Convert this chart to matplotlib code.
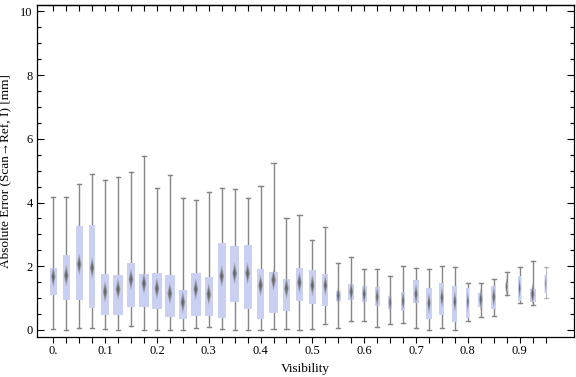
import matplotlib
matplotlib.use("Agg")
import matplotlib.pyplot as plt
import numpy as np
from matplotlib.patches import Polygon, Rectangle

# visibility bins (category positions)
visibility = np.round(np.arange(39) * 0.025, 3)

whisker_high = [4.18, 4.18, 4.57, 4.91, 4.72, 4.79, 4.97, 5.45, 4.47, 4.88,
                4.13, 4.07, 4.32, 4.47, 4.41, 4.13, 4.51, 5.23, 3.53, 3.60,
                2.81, 3.22, 2.09, 2.28, 1.90, 1.90, 1.68, 2.00, 1.93, 1.90,
                2.00, 1.97, 1.46, 1.49, 1.59, 1.81, 1.97, 2.15, 1.98]
q3 = [1.94, 2.34, 3.25, 3.31, 1.75, 1.71, 2.09, 1.75, 1.78, 1.71,
      1.24, 1.78, 1.65, 2.73, 2.63, 2.66, 1.91, 1.82, 1.60, 1.94,
      1.87, 1.76, 1.22, 1.44, 1.38, 1.35, 1.07, 1.19, 1.56, 1.31,
      1.46, 1.38, 1.31, 1.16, 1.38, 1.46, 1.68, 1.28, 1.71]
median = [1.67, 1.71, 2.06, 1.95, 1.20, 1.28, 1.59, 1.46, 1.30, 1.15,
          0.87, 1.28, 1.12, 1.69, 1.78, 1.78, 1.40, 1.57, 1.31, 1.49,
          1.40, 1.40, 1.08, 1.20, 1.13, 1.04, 0.86, 0.91, 1.13, 0.84,
          1.02, 0.89, 0.89, 0.96, 1.04, 1.36, 1.31, 1.13, 1.46]
q1 = [1.11, 0.95, 0.95, 0.68, 0.46, 0.48, 0.73, 0.73, 0.67, 0.42,
      0.35, 0.45, 0.45, 0.39, 0.89, 0.67, 0.35, 0.54, 0.61, 0.92,
      0.82, 0.76, 0.92, 0.95, 0.89, 0.76, 0.65, 0.61, 0.84, 0.34,
      0.48, 0.26, 0.39, 0.73, 0.65, 1.23, 0.92, 0.89, 1.17]
whisker_low = [0.02, 0.00, 0.05, 0.05, 0.02, 0.00, 0.13, 0.00, 0.00, 0.00,
               0.00, 0.05, 0.08, 0.02, 0.00, 0.00, 0.00, 0.02, 0.02, 0.00,
               0.02, 0.19, 0.05, 0.27, 0.28, 0.08, 0.18, 0.21, 0.05, 0.00,
               0.05, 0.00, 0.28, 0.40, 0.43, 1.09, 0.84, 0.77, 0.99]
# relative box widths (sample size weighting), in visibility units
box_width = [0.0135, 0.0141, 0.0141, 0.0129, 0.0141, 0.0206, 0.0168, 0.0187, 0.0206, 0.0193,
             0.0154, 0.0187, 0.0154, 0.0160, 0.0174, 0.0154, 0.0149, 0.0174, 0.0141, 0.0141,
             0.0135, 0.0116, 0.0097, 0.0116, 0.0102, 0.0093, 0.0077, 0.0083, 0.0102, 0.0102,
             0.0097, 0.0097, 0.0058, 0.0102, 0.0097, 0.0058, 0.0058, 0.0116, 0.0052]

x_ticks = [0.0, 0.1, 0.2, 0.3, 0.4, 0.5, 0.6, 0.7, 0.8, 0.9]
x_ticklabels = ['0.', '0.1', '0.2', '0.3', '0.4', '0.5', '0.6', '0.7', '0.8', '0.9']

box_color = '#c9d0f2'
line_color = '#858585'
cap = 0.008

plt.rcParams['font.family'] = ['Liberation Serif', 'DejaVu Serif']

fig = plt.figure(figsize=(5.76, 3.77), dpi=100)
ax = fig.add_axes([0.0637, 0.107, 0.933, 0.8805])

n = len(visibility)
for i in range(n):
    x = visibility[i]
    w = box_width[i]
    a = 0.5 if i == n - 1 else 1.0
    # whisker
    ax.plot([x, x], [whisker_low[i], whisker_high[i]], color=line_color, lw=1.0, alpha=a, zorder=1)
    ax.plot([x - cap / 2, x + cap / 2], [whisker_high[i]] * 2, color=line_color, lw=1.0, alpha=a, zorder=1)
    ax.plot([x - cap / 2, x + cap / 2], [whisker_low[i]] * 2, color=line_color, lw=1.0, alpha=a, zorder=1)
    # box
    ax.add_patch(Rectangle((x - w / 2, q1[i]), w, q3[i] - q1[i], facecolor=box_color,
                           edgecolor='none', alpha=a, zorder=2))
    # median diamond (soft gray)
    dw = min(0.65 * w, 0.0095)
    dh = 0.7
    for scale, col, al in [(1.0, '#9696a0', 0.7), (0.7, '#7a7a7a', 0.9), (0.4, '#636363', 1.0)]:
        hw, hh = dw / 2 * scale, dh / 2 * scale
        ax.add_patch(Polygon([(x - hw, median[i]), (x, median[i] + hh),
                              (x + hw, median[i]), (x, median[i] - hh)],
                             closed=True, facecolor=col, edgecolor='none',
                             alpha=al * a, zorder=3))

ax.set_xlim(-0.032, 1.005)
ax.set_ylim(-0.21, 10.21)

ax.set_xticks(x_ticks)
ax.set_xticklabels(x_ticklabels)
ax.set_xticks(visibility, minor=True)
ax.set_yticks([0, 2, 4, 6, 8, 10])
ax.set_yticks(np.arange(0, 10.01, 0.5), minor=True)

ax.tick_params(axis='y', which='both', direction='in', right=True,
               labelsize=9, colors='black', width=0.8)
ax.tick_params(axis='y', which='major', length=5, pad=3)
ax.tick_params(axis='y', which='minor', length=3)
ax.tick_params(axis='x', which='both', direction='out', top=False,
               labelsize=9, colors='black', width=0.8, length=4, pad=2)

# top frame ticks point inward
top = ax.secondary_xaxis('top')
top.set_xticks(visibility)
top.set_xticklabels([])
top.tick_params(direction='in', length=4, width=0.8)
top.spines['top'].set_linewidth(0.9)

for s in ax.spines.values():
    s.set_linewidth(0.9)

ax.set_xlabel('Visibility', fontsize=9.5, labelpad=4)
ax.set_ylabel('Absolute Error (Scan\u2192Ref, I) [mm]', fontsize=9.5, labelpad=6)

fig.savefig('out.png', dpi=100)
